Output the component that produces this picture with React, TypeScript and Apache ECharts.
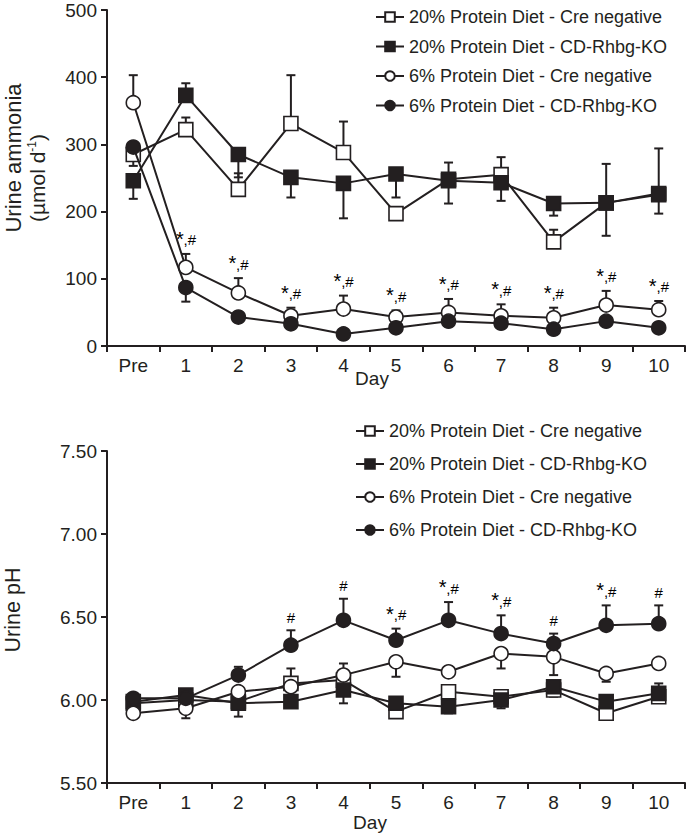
import React, { useEffect, useRef } from 'react';
import * as echarts from 'echarts';

const INK = '#231f20';
const FONT = '"Liberation Sans", Arial, sans-serif';

const days = ['Pre', '1', '2', '3', '4', '5', '6', '7', '8', '9', '10'];
const seriesNames = [
  '20% Protein Diet - Cre negative',
  '20% Protein Diet - CD-Rhbg-KO',
  '6% Protein Diet - Cre negative',
  '6% Protein Diet - CD-Rhbg-KO',
];

// Urine ammonia (µmol/d)
const ammoniaCreNeg20 = [285, 322, 233, 331, 288, 197, 248, 255, 155, 213, 227];
const ammoniaCreNeg20Up = [0, 18, 24, 72, 46, 0, 25, 26, 18, 0, 67];
const ammoniaCreNeg20Down = [17, 0, 0, 0, 0, 0, 0, 0, 0, 0, 0];
const ammoniaKO20 = [246, 373, 285, 251, 242, 256, 246, 243, 212, 213, 225];
const ammoniaKO20Up = [0, 18, 0, 0, 0, 0, 0, 0, 0, 58, 0];
const ammoniaKO20Down = [27, 0, 34, 30, 52, 35, 34, 27, 18, 49, 28];
const ammoniaCreNeg6 = [362, 117, 79, 45, 55, 43, 50, 45, 42, 61, 54];
const ammoniaCreNeg6Up = [41, 20, 22, 12, 20, 10, 20, 17, 15, 21, 13];
const ammoniaCreNeg6Down = [0, 0, 0, 0, 0, 0, 0, 0, 0, 0, 0];
const ammoniaKO6 = [296, 87, 43, 33, 18, 27, 37, 34, 25, 37, 27];
const ammoniaKO6Up = [0, 0, 0, 0, 0, 0, 0, 0, 0, 0, 0];
const ammoniaKO6Down = [0, 21, 0, 0, 0, 0, 0, 0, 0, 0, 0];
const ammoniaStarDays = [1, 2, 3, 4, 5, 6, 7, 8, 9, 10];
const ammoniaHashDays = [1, 2, 3, 4, 5, 6, 7, 8, 9, 10];

// Urine pH
const phCreNeg20 = [5.98, 6.0, 5.99, 6.1, 6.12, 5.93, 6.05, 6.02, 6.06, 5.92, 6.02];
const phCreNeg20Up = [0, 0, 0, 0.09, 0, 0, 0, 0, 0, 0, 0];
const phCreNeg20Down = [0, 0, 0, 0, 0, 0, 0, 0, 0, 0, 0];
const phKO20 = [5.99, 6.03, 5.98, 5.99, 6.06, 5.98, 5.96, 6.0, 6.08, 5.99, 6.04];
const phKO20Up = [0, 0, 0, 0, 0, 0, 0, 0, 0, 0, 0.06];
const phKO20Down = [0, 0, 0.08, 0, 0.08, 0, 0.04, 0.05, 0.06, 0, 0];
const phCreNeg6 = [5.92, 5.95, 6.05, 6.08, 6.15, 6.23, 6.17, 6.28, 6.26, 6.16, 6.22];
const phCreNeg6Up = [0, 0, 0, 0, 0.07, 0, 0, 0, 0, 0, 0];
const phCreNeg6Down = [0, 0.06, 0, 0, 0, 0.09, 0.03, 0.09, 0.11, 0.05, 0.02];
const phKO6 = [6.01, 6.01, 6.15, 6.33, 6.48, 6.36, 6.48, 6.4, 6.34, 6.45, 6.46];
const phKO6Up = [0, 0, 0.05, 0.09, 0.13, 0.07, 0.11, 0.11, 0.06, 0.12, 0.11];
const phKO6Down = [0, 0, 0, 0, 0, 0, 0, 0, 0, 0, 0];
const phStarDays = [5, 6, 7, 9];
const phHashDays = [3, 4, 5, 6, 7, 8, 9, 10];

const markerStyles = [
  { symbol: 'rect', fill: '#ffffff', size: 14 },
  { symbol: 'rect', fill: INK, size: 14 },
  { symbol: 'circle', fill: '#ffffff', size: 14 },
  { symbol: 'circle', fill: INK, size: 14 },
];

function lineSeries(idx: number, values: number[], axis: number) {
  const m = markerStyles[idx];
  return {
    type: 'line',
    name: seriesNames[idx],
    xAxisIndex: axis,
    yAxisIndex: axis,
    data: values,
    symbol: m.symbol,
    symbolSize: m.size,
    showSymbol: true,
    itemStyle: { color: m.fill, borderColor: INK, borderWidth: 1.6, opacity: 1 },
    lineStyle: { color: INK, width: 2 },
    emphasis: { disabled: true },
    z: 4 + idx,
  };
}

function errorSeries(values: number[], up: number[], down: number[], axis: number) {
  return {
    type: 'custom',
    xAxisIndex: axis,
    yAxisIndex: axis,
    silent: true,
    z: 3,
    encode: { x: 0, y: 1 },
    data: values.map((v, i) => [i, v, up[i], down[i]]),
    renderItem: (params: any, api: any) => {
      const i = api.value(0);
      const v = api.value(1);
      const u = api.value(2);
      const d = api.value(3);
      const p = api.coord([i, v]);
      const children: any[] = [];
      const st = { stroke: INK, lineWidth: 2 };
      const cap = 4.5;
      if (u > 0) {
        const t = api.coord([i, v + u]);
        children.push({ type: 'line', shape: { x1: p[0], y1: p[1], x2: t[0], y2: t[1] }, style: st });
        children.push({ type: 'line', shape: { x1: p[0] - cap, y1: t[1], x2: p[0] + cap, y2: t[1] }, style: st });
      }
      if (d > 0) {
        const b = api.coord([i, v - d]);
        children.push({ type: 'line', shape: { x1: p[0], y1: p[1], x2: b[0], y2: b[1] }, style: st });
        children.push({ type: 'line', shape: { x1: p[0] - cap, y1: b[1], x2: p[0] + cap, y2: b[1] }, style: st });
      }
      return { type: 'group', children };
    },
  };
}

function annotSeries(dayIdx: number[], values: number[], up: number[], axis: number, text: string, offset: number[], size: number) {
  return {
    type: 'scatter',
    xAxisIndex: axis,
    yAxisIndex: axis,
    silent: true,
    symbolSize: 0,
    z: 10,
    itemStyle: { color: '#000000', opacity: 1 },
    data: dayIdx.map((i) => [i, values[i] + up[i]]),
    label: {
      show: true,
      position: 'inside',
      offset,
      formatter: text,
      fontSize: size,
      fontFamily: FONT,
      color: '#000000',
      opacity: 1,
      textBorderWidth: 0,
      textBorderColor: 'transparent',
    },
    emphasis: { disabled: true },
  };
}

function xAxisCfg(grid: number) {
  return {
    type: 'category',
    gridIndex: grid,
    data: days,
    boundaryGap: true,
    axisLine: { show: true, lineStyle: { color: INK, width: 2 } },
    axisTick: { show: true, interval: 0, length: 6, lineStyle: { color: INK, width: 2 } },
    axisLabel: { interval: 0, fontSize: 19, fontFamily: FONT, color: INK, margin: 10 },
    splitLine: { show: false },
  };
}

function yAxisCfg(grid: number, min: number, max: number, interval: number, dec: number) {
  return {
    type: 'value',
    gridIndex: grid,
    min,
    max,
    interval,
    axisLine: { show: true, lineStyle: { color: INK, width: 2 } },
    axisTick: { show: true, length: 6, lineStyle: { color: INK, width: 2 } },
    axisLabel: {
      fontSize: 19,
      fontFamily: FONT,
      color: INK,
      margin: 10,
      formatter: (v: number) => v.toFixed(dec),
    },
    splitLine: { show: false },
  };
}

function legendCfg(left: number, top: number, gap: number) {
  return {
    orient: 'vertical',
    left,
    top,
    padding: 0,
    itemWidth: 28,
    itemHeight: 12,
    itemGap: gap,
    selectedMode: false,
    data: seriesNames,
    textStyle: { fontSize: 18, fontFamily: FONT, color: INK },
  };
}

export default function App() {
  const ref = useRef<HTMLDivElement>(null);
  useEffect(() => {
    document.body.style.margin = '0';
    const chart = echarts.init(ref.current!, null, { renderer: 'svg' });
    const option: any = {
      animation: false,
      backgroundColor: '#ffffff',
      grid: [
        { left: 107, right: 1, top: 10, height: 336 },
        { left: 107, right: 1, top: 451, height: 332 },
      ],
      xAxis: [xAxisCfg(0), xAxisCfg(1)],
      yAxis: [yAxisCfg(0, 0, 500, 100, 0), yAxisCfg(1, 5.5, 7.5, 0.5, 2)],
      legend: [legendCfg(375, 8, 11.5), legendCfg(355, 422, 15)],
      graphic: [
        { type: 'text', x: 13, y: 158, rotation: Math.PI / 2, style: { text: 'Urine ammonia', fontSize: 22, fontFamily: FONT, fill: INK, align: 'center', verticalAlign: 'middle' } },
        {
          type: 'text', x: 37, y: 178, rotation: Math.PI / 2,
          style: {
            text: '{n|(µmol d}{s|-1}{n|)}', align: 'center', verticalAlign: 'middle', fill: INK,
            rich: {
              n: { fontSize: 21, fontFamily: FONT, fill: INK, color: INK },
              s: { fontSize: 12, fontFamily: FONT, fill: INK, color: INK, padding: [0, 0, 10, 0] },
            },
          },
        },
        { type: 'text', x: 13, y: 610, rotation: Math.PI / 2, style: { text: 'Urine pH', fontSize: 21.5, fontFamily: FONT, fill: INK, align: 'center', verticalAlign: 'middle' } },
        { type: 'text', x: 372, y: 378, style: { text: 'Day', fontSize: 19, fontFamily: FONT, fill: INK, align: 'center', verticalAlign: 'middle' } },
        { type: 'text', x: 370, y: 822, style: { text: 'Day', fontSize: 19, fontFamily: FONT, fill: INK, align: 'center', verticalAlign: 'middle' } },
      ],
      series: [
        errorSeries(ammoniaCreNeg20, ammoniaCreNeg20Up, ammoniaCreNeg20Down, 0),
        errorSeries(ammoniaKO20, ammoniaKO20Up, ammoniaKO20Down, 0),
        errorSeries(ammoniaCreNeg6, ammoniaCreNeg6Up, ammoniaCreNeg6Down, 0),
        errorSeries(ammoniaKO6, ammoniaKO6Up, ammoniaKO6Down, 0),
        lineSeries(0, ammoniaCreNeg20, 0),
        lineSeries(1, ammoniaKO20, 0),
        lineSeries(2, ammoniaCreNeg6, 0),
        lineSeries(3, ammoniaKO6, 0),
        annotSeries(ammoniaStarDays, ammoniaCreNeg6, ammoniaCreNeg6Up, 0, '*', [-6, -15], 20),
        annotSeries(ammoniaHashDays, ammoniaCreNeg6, ammoniaCreNeg6Up, 0, ',#', [4, -14], 15),

        errorSeries(phCreNeg20, phCreNeg20Up, phCreNeg20Down, 1),
        errorSeries(phKO20, phKO20Up, phKO20Down, 1),
        errorSeries(phCreNeg6, phCreNeg6Up, phCreNeg6Down, 1),
        errorSeries(phKO6, phKO6Up, phKO6Down, 1),
        lineSeries(0, phCreNeg20, 1),
        lineSeries(1, phKO20, 1),
        lineSeries(2, phCreNeg6, 1),
        lineSeries(3, phKO6, 1),
        annotSeries(phStarDays, phKO6, phKO6Up, 1, '*', [-6, -15], 20),
        annotSeries(phHashDays.filter((d) => phStarDays.includes(d)), phKO6, phKO6Up, 1, ',#', [4, -14], 15),
        annotSeries(phHashDays.filter((d) => !phStarDays.includes(d)), phKO6, phKO6Up, 1, '#', [0, -13], 15),
      ],
    };
    chart.setOption(option);
    return () => chart.dispose();
  }, []);
  return <div ref={ref} style={{ width: 686, height: 835 }} />;
}
